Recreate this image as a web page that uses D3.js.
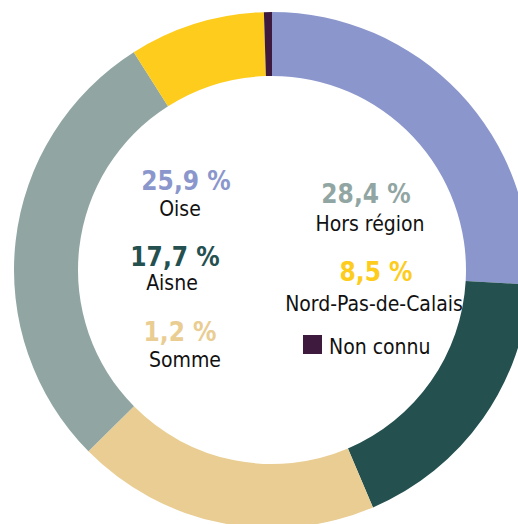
<!DOCTYPE html>
<html>
<head>
<meta charset="utf-8">
<script src="https://cdn.jsdelivr.net/npm/d3@7"></script>
<style>
  html, body { margin: 0; padding: 0; background: #ffffff; }
  svg { display: block; }
  text { font-family: "DejaVu Sans Condensed", "DejaVu Sans", sans-serif; }
</style>
</head>
<body>
<svg id="chart" width="518" height="524"></svg>
<script>
// Share of people by origin (percent), clockwise from 12 o'clock
const categories = ["Oise", "Aisne", "Somme", "Hors région", "Nord-Pas-de-Calais", "Non connu"];
const values = [25.9, 17.7, 19.0, 28.4, 8.5, 0.5];
const colors = ["#8b97cc", "#24504f", "#e9cd92", "#91a6a3", "#fdcc1d", "#3e1a3e"];
// Printed percentage captions
const pctLabels = ["25,9 %", "17,7 %", "1,2 %", "28,4 %", "8,5 %"];

const svg = d3.select("#chart");
const cx = 272, cy = 270;
const outerR = 258, innerR = 194;

const pie = d3.pie().sort(null).value(d => d.value);
const arc = d3.arc().innerRadius(innerR).outerRadius(outerR);

const data = categories.map((c, i) => ({ name: c, value: values[i], color: colors[i] }));

svg.append("g")
  .attr("transform", `translate(${cx},${cy})`)
  .selectAll("path")
  .data(pie(data))
  .join("path")
  .attr("d", arc)
  .attr("fill", d => d.data.color);

// Caption layout inside the hole: percentage on top, name below
const captions = [
  { i: 0, x: 186, py: 190, ny: 216, nx: 180 },
  { i: 1, x: 175, py: 266, ny: 290, nx: 172 },
  { i: 2, x: 180, py: 341, ny: 367, nx: 185 },
  { i: 3, x: 366, py: 203, ny: 231, nx: 370 },
  { i: 4, x: 376, py: 281, ny: 311, nx: 374 }
];

const cap = svg.append("g");
captions.forEach(c => {
  cap.append("text")
    .attr("x", c.x).attr("y", c.py)
    .attr("text-anchor", "middle")
    .attr("font-size", 26)
    .attr("font-weight", "bold")
    .attr("fill", colors[c.i])
    .text(pctLabels[c.i]);
  cap.append("text")
    .attr("x", c.nx).attr("y", c.ny)
    .attr("text-anchor", "middle")
    .attr("font-size", 21)
    .attr("fill", "#111111")
    .text(categories[c.i]);
});

// Legend entry for the smallest slice
cap.append("rect")
  .attr("x", 303).attr("y", 335)
  .attr("width", 19).attr("height", 19)
  .attr("fill", colors[5]);
cap.append("text")
  .attr("x", 329).attr("y", 354)
  .attr("font-size", 21)
  .attr("fill", "#111111")
  .text(categories[5]);
</script>
</body>
</html>
